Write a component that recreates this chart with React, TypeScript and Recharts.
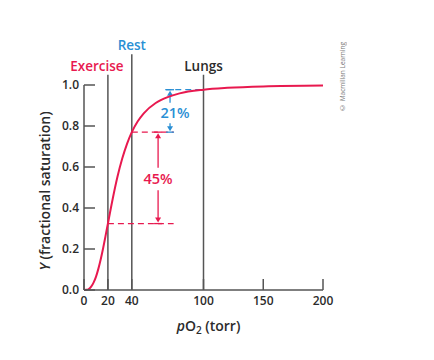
import React from 'react';
import {
  LineChart,
  Line,
  XAxis,
  YAxis,
  ReferenceLine,
  ReferenceDot,
} from 'recharts';

// oxygen binding curve of hemoglobin
const po2 = [0, 2, 4, 6, 8, 10, 12, 14, 16, 18, 20, 24, 28, 32, 36, 40, 45, 50, 60, 70, 80, 100, 120, 150, 200];
const saturation = [
  0, 0.001, 0.005, 0.016, 0.036, 0.064, 0.103, 0.15, 0.204, 0.263, 0.324, 0.444, 0.552, 0.641, 0.713,
  0.77, 0.823, 0.862, 0.912, 0.941, 0.959, 0.977, 0.986, 0.993, 0.997,
];

const xTicks = [0, 20, 40, 100, 150, 200];
const yTicks = [0, 0.2, 0.4, 0.6, 0.8, 1.0];

// tissue / lung conditions
const conditionNames = ['Exercise', 'Rest', 'Lungs'];
const conditionPo2 = [20, 40, 100];
const conditionLineTop = [1.05, 1.15, 1.05];

// dashed saturation levels
const levelValues = [0.324, 0.77, 0.977];
const levelFrom = [20, 40, 68];
const levelTo = [75, 75, 100];

// delivered oxygen arrows
const deltaLabels = ['45%', '21%'];
const deltaPo2 = [62, 72];
const deltaLow = [0.324, 0.77];
const deltaHigh = [0.77, 0.977];
const deltaLabelY = [0.541, 0.863];

const RED = '#e8194f';
const BLUE = '#2a8fd4';
const GRAY = '#555';
const TEXT = '#2b2b2b';
const FONT = '"Open Sans", sans-serif';

const data = po2.map((x, i) => ({ x, y: saturation[i] }));

const conditionColors = [RED, BLUE, TEXT];
const levelColors = [RED, RED, BLUE];
const deltaColors = [RED, BLUE];

// line with arrowhead at (x2, y2)
const arrowShape = (color: string) => (p: any) => {
  const { x1, y1, x2, y2 } = p;
  const dir = y2 < y1 ? 1 : -1; // 1 => pointing up
  return (
    <g>
      <line x1={x1} y1={y1} x2={x2} y2={y2 + dir * 3} stroke={color} strokeWidth={1.3} />
      <path
        d={`M${x2 - 3},${y2 + dir * 6} L${x2},${y2 + dir * 1} L${x2 + 3},${y2 + dir * 6} Z`}
        fill={color}
      />
      <line x1={x2 - 4} y1={y2} x2={x2 + 4} y2={y2} stroke={color} strokeWidth={1.3} />
    </g>
  );
};

const textShape = (label: string, color: string, size: number, dx: number, dy: number) => (p: any) => (
  <text
    x={p.cx + dx}
    y={p.cy + dy}
    fill={color}
    fontSize={size}
    fontFamily={FONT}
    fontWeight={600}
    textAnchor="middle"
  >
    {label}
  </text>
);

export default function App() {
  return (
    <div style={{ position: 'absolute', left: 0, top: 0, width: 434, height: 360, background: '#fff' }}>
      <LineChart
        width={434}
        height={360}
        data={data}
        margin={{ top: 85, right: 111, left: 44, bottom: 40 }}
      >
        <XAxis
          dataKey="x"
          type="number"
          domain={[0, 200]}
          ticks={xTicks}
          interval={0}
          stroke={GRAY}
          strokeWidth={1.5}
          tickSize={-11}
          tickMargin={17}
          tick={{ fill: TEXT, fontSize: 12, fontFamily: FONT, fontWeight: 600 }}
          label={{
            content: (p: any) => {
              const vb = p.viewBox;
              return (
                <text
                  x={vb.x + vb.width / 2 + 5}
                  y={331}
                  fill={TEXT}
                  fontSize={14}
                  fontFamily={FONT}
                  fontWeight={600}
                  textAnchor="middle"
                >
                  <tspan fontStyle="italic">p</tspan>
                  <tspan>O</tspan>
                  <tspan fontSize={10} dy={3}>2</tspan>
                  <tspan dy={-3}> (torr)</tspan>
                </text>
              );
            },
          }}
        />
        <YAxis
          type="number"
          domain={[0, 1]}
          ticks={yTicks}
          interval={0}
          width={40}
          stroke={GRAY}
          strokeWidth={1.5}
          tickSize={-11}
          tickMargin={16}
          tickFormatter={(v: number) => v.toFixed(1)}
          tick={{ fill: TEXT, fontSize: 12, fontFamily: FONT, fontWeight: 600 }}
          label={{
            content: () => (
              <text
                x={50}
                y={191}
                transform="rotate(-90, 50, 191)"
                fill={TEXT}
                fontSize={14}
                fontFamily={FONT}
                fontWeight={600}
                textAnchor="middle"
              >
                <tspan fontStyle="italic">Y</tspan>
                <tspan> (fractional saturation)</tspan>
              </text>
            ),
          }}
        />

        {conditionPo2.map((x, i) => (
          <ReferenceLine
            key={`c${i}`}
            segment={[
              { x, y: 0 },
              { x, y: conditionLineTop[i] },
            ]}
            stroke={GRAY}
            strokeWidth={1.5}
            ifOverflow="visible"
          />
        ))}
        {conditionPo2.map((x, i) => (
          <ReferenceDot
            key={`cl${i}`}
            x={x}
            y={conditionLineTop[i]}
            r={0}
            ifOverflow="visible"
            shape={textShape(conditionNames[i], conditionColors[i], 13.5, i === 0 ? -11 : 0, -4)}
          />
        ))}

        {levelValues.map((y, i) => (
          <ReferenceLine
            key={`l${i}`}
            segment={[
              { x: levelFrom[i], y },
              { x: levelTo[i], y },
            ]}
            stroke={levelColors[i]}
            strokeWidth={1.3}
            strokeDasharray="6 4"
            ifOverflow="visible"
          />
        ))}

        {deltaPo2.map((x, i) => {
          const mid = deltaLabelY[i];
          const gap = i === 0 ? 0.055 : 0.05;
          return (
            <React.Fragment key={`d${i}`}>
              <ReferenceLine
                segment={[
                  { x, y: mid + gap },
                  { x, y: deltaHigh[i] },
                ]}
                ifOverflow="visible"
                shape={arrowShape(deltaColors[i])}
              />
              <ReferenceLine
                segment={[
                  { x, y: mid - gap },
                  { x, y: deltaLow[i] },
                ]}
                ifOverflow="visible"
                shape={arrowShape(deltaColors[i])}
              />
              <ReferenceDot
                x={x}
                y={mid}
                r={0}
                ifOverflow="visible"
                shape={textShape(deltaLabels[i], deltaColors[i], 14.5, i === 1 ? 5 : 0, 5)}
              />
            </React.Fragment>
          );
        })}

        <Line
          type="monotone"
          dataKey="y"
          stroke={RED}
          strokeWidth={2}
          dot={false}
          isAnimationActive={false}
        />
      </LineChart>
      <div
        style={{
          position: 'absolute',
          left: 338,
          top: 42,
          writingMode: 'vertical-rl',
          transform: 'rotate(180deg)',
          fontSize: 6.5,
          fontFamily: FONT,
          color: '#777',
          whiteSpace: 'nowrap',
        }}
      >
        © Macmillan Learning
      </div>
    </div>
  );
}
